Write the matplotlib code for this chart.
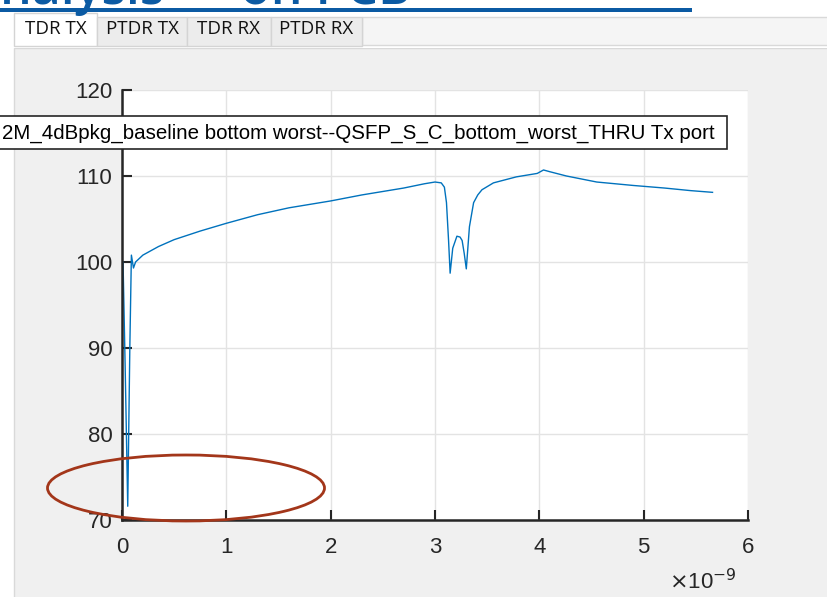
import numpy as np
import matplotlib
matplotlib.use("Agg")
import matplotlib.pyplot as plt
from matplotlib import patches

# TDR trace (time in ns, impedance in ohm)
time_ns = [0.01, 0.03, 0.055, 0.075, 0.09, 0.11, 0.13, 0.2, 0.35, 0.5, 0.75, 1.0, 1.3, 1.6,
           2.0, 2.3, 2.7, 2.9, 3.0, 3.06, 3.09, 3.11, 3.13, 3.145, 3.17, 3.21, 3.24, 3.26,
           3.28, 3.30, 3.33, 3.37, 3.41, 3.45, 3.56, 3.78, 3.98, 4.04, 4.1, 4.26, 4.55,
           4.9, 5.2, 5.45, 5.66]
impedance = [100.0, 88.0, 71.6, 90.0, 100.8, 99.3, 100.0, 100.8, 101.8, 102.6, 103.6, 104.5,
             105.5, 106.3, 107.1, 107.8, 108.6, 109.1, 109.3, 109.2, 108.7, 106.9, 102.5,
             98.7, 101.6, 103.0, 102.9, 102.5, 101.0, 99.2, 104.1, 106.9, 107.8, 108.4,
             109.2, 109.9, 110.3, 110.7, 110.5, 110.0, 109.3, 108.9, 108.6, 108.3, 108.1]

tabs = ["TDR TX", "PTDR TX", "TDR RX", "PTDR RX"]
legend_label = "2M_4dBpkg_baseline bottom worst--QSFP_S_C_bottom_worst_THRU Tx port"

W, H = 828, 597
fig = plt.figure(figsize=(W / 100, H / 100), dpi=100)
fig.patch.set_facecolor("white")


def fx(px):
    return px / W


def fy(py):
    return 1 - py / H


def fig_rect(x0, y0, x1, y1, **kw):
    # rectangle given in pixel coords (top-left origin)
    r = patches.Rectangle((fx(x0), fy(y1)), (x1 - x0) / W, (y1 - y0) / H,
                          transform=fig.transFigure, **kw)
    fig.add_artist(r)
    return r


# slide heading, cut off at the top
fig.text(fx(0), fy(4), "nalysis \u2014 on PCB", color="#0b5aa3", fontsize=36,
         fontfamily="Open Sans", fontweight="semibold", va="baseline", ha="left", zorder=1)
fig_rect(0, 8, 692, 12, facecolor="#0b5aa3", edgecolor="none", zorder=2)

# tab panel
fig_rect(14, 48, W + 5, H + 5, facecolor="#f0f0f0", edgecolor="#d9d9d9", lw=1, zorder=-3)
fig_rect(14, 46, W + 5, 48, facecolor="white", edgecolor="none", zorder=-3)
fig_rect(362, 17, W + 5, 45, facecolor="#f5f5f5", edgecolor="#d9d9d9", lw=1, zorder=-3)
tab_edges = [14, 97, 187, 271, 362]
for i, name in enumerate(tabs):
    x0, x1 = tab_edges[i], tab_edges[i + 1]
    top = 13 if i == 0 else 17
    color = "white" if i == 0 else "#ececec"
    fig_rect(x0, top, x1, 46, facecolor=color, edgecolor="#d4d4d4", lw=1, zorder=-2)
    fig.text(fx((x0 + x1) / 2), fy(29), name, fontsize=13.5, fontfamily="Open Sans",
             ha="center", va="center", color="#111111")

ax = fig.add_axes([fx(122), fy(520), (748 - 122) / W, (520 - 90) / H])
ax.set_zorder(3)
ax.plot(np.array(time_ns) * 1e-9, impedance, color="#0072bd", lw=1.0)
ax.set_xlim(0, 6e-9)
ax.set_ylim(70, 120)
ax.set_xticks(np.arange(0, 7) * 1e-9)
ax.set_xticklabels([str(v) for v in range(7)])
ax.set_yticks(np.arange(70, 121, 10))
ax.grid(True, color="#e3e3e3", lw=1)
ax.set_axisbelow(True)
for side in ["top", "right"]:
    ax.spines[side].set_visible(False)
for side in ["left", "bottom"]:
    ax.spines[side].set_linewidth(1.8)
    ax.spines[side].set_color("#262626")
ax.tick_params(direction="in", length=7, width=1.5, color="#262626",
               labelsize=16, labelcolor="#262626")
ax.tick_params(axis="x", pad=12)
ax.tick_params(axis="y", pad=7)
for lab in ax.get_xticklabels() + ax.get_yticklabels():
    lab.set_fontfamily("Liberation Sans")

# exponent label under the x axis, MATLAB style
fig.text(fx(737), fy(589), r"$\times$10$^{-9}$", fontsize=16, fontfamily="Liberation Sans",
         ha="right", va="baseline", color="#262626")

# legend box, clipped at the left side of the window
fig_rect(-20, 116, 727, 149, facecolor="white", edgecolor="#262626", lw=1.2, zorder=6)
fig.text(fx(2), fy(133), legend_label, fontsize=14.8, fontfamily="Liberation Sans",
         ha="left", va="center", color="black", zorder=7)

# hand-drawn ellipse highlighting the dip
fig.add_artist(patches.Ellipse((fx(186), fy(488)), 277 / W, 66 / H, transform=fig.transFigure,
                               facecolor="none", edgecolor="#a3361a", lw=2, zorder=8))

fig.savefig("out.png", dpi=100, facecolor=fig.get_facecolor())
